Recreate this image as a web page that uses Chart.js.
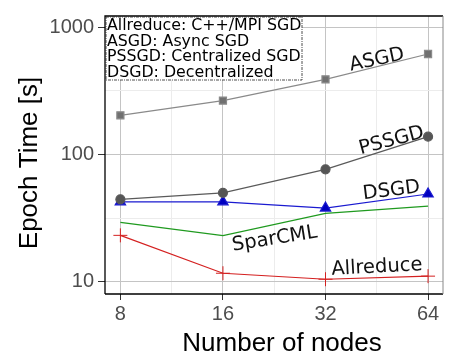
<!DOCTYPE html>
<html lang="en">
<head>
    <meta charset="UTF-8">
    <title>Epoch time vs nodes</title>
    <script src="https://cdn.jsdelivr.net/npm/chart.js"></script>
    <style>
        body { margin: 0; background: #fff; }
        #wrap { width: 474px; height: 361px; }
    </style>
</head>
<body>
    <div id="wrap"><canvas id="myChart" width="474" height="361"></canvas></div>
    <script>
        const nodes = [8, 16, 32, 64];
        const asgd = [203, 265, 389, 615];
        const pssgd = [44.5, 50, 76.5, 138];
        const dsgd = [42.5, 42.5, 38, 49];
        const sparcml = [29.3, 23.1, 34.5, 39.3];
        const allreduce = [23.2, 11.7, 10.5, 11.1];
        const yTicks = [10, 100, 1000];
        const legendLines = [
            'Allreduce: C++/MPI SGD',
            'ASGD: Async SGD',
            'PSSGD: Centralized SGD',
            'DSGD: Decentralized'
        ];

        const xMinor = [11.31, 22.63, 45.25];
        const yMinor = [31.62, 316.2];

        const pts = arr => nodes.map((x, i) => ({ x, y: arr[i] }));

        // line labels placed in data space, rotated like in the original
        const lineLabels = [
            { text: 'ASGD', x: 45.3, y: 552, rot: -12 },
            { text: 'PSSGD', x: 50, y: 128, rot: -15 },
            { text: 'DSGD', x: 50, y: 52, rot: -7 },
            { text: 'SparCML', x: 22.7, y: 21.7, rot: -9 },
            { text: 'Allreduce', x: 45.3, y: 13, rot: -3 }
        ];

        const extras = {
            id: 'extras',
            afterDatasetsDraw(chart) {
                const { ctx, chartArea: a, scales } = chart;
                ctx.save();
                // panel border
                ctx.strokeStyle = '#000';
                ctx.lineWidth = 1.3;
                ctx.beginPath();
                ctx.moveTo(a.left, a.bottom); ctx.lineTo(a.left, a.top); ctx.lineTo(a.right, a.top);
                ctx.moveTo(a.left, a.bottom); ctx.lineTo(a.right, a.bottom);
                ctx.stroke();
                ctx.strokeStyle = '#888';
                ctx.lineWidth = 1;
                ctx.beginPath();
                ctx.moveTo(a.right, a.top); ctx.lineTo(a.right, a.bottom);
                ctx.stroke();

                // line labels
                ctx.fillStyle = '#111';
                ctx.font = '19.5px "DejaVu Sans"';
                ctx.textAlign = 'center';
                ctx.textBaseline = 'middle';
                lineLabels.forEach(l => {
                    const px = scales.x.getPixelForValue(l.x);
                    const py = scales.y.getPixelForValue(l.y);
                    ctx.save();
                    ctx.translate(px, py);
                    ctx.rotate(l.rot * Math.PI / 180);
                    ctx.fillText(l.text, 0, 0);
                    ctx.restore();
                });

                // legend box
                const bx = a.left + 1, by = a.top + 1, bw = 196, bh = 63;
                ctx.fillStyle = '#fff';
                ctx.fillRect(bx, by, bw, bh);
                ctx.strokeStyle = '#222';
                ctx.lineWidth = 0.8;
                ctx.setLineDash([3, 1, 1, 1]);
                ctx.strokeRect(bx, by, bw, bh);
                ctx.setLineDash([]);
                ctx.fillStyle = '#000';
                ctx.font = '15.8px "DejaVu Sans"';
                ctx.textAlign = 'left';
                ctx.textBaseline = 'middle';
                legendLines.forEach((t, i) => ctx.fillText(t, bx + 1, by + 9 + i * 15.5));

                // axis titles
                ctx.font = '26px "Liberation Sans"';
                ctx.textAlign = 'center';
                ctx.textBaseline = 'alphabetic';
                ctx.fillText('Number of nodes', 282, 351);
                ctx.save();
                ctx.translate(37, 163);
                ctx.rotate(-Math.PI / 2);
                ctx.fillText('Epoch Time [s]', 0, 0);
                ctx.restore();
                ctx.restore();
            }
        };

        const gridColor = ctx => (ctx.tick && ctx.tick.minor2) ? '#ececec' : '#c4c4c4';
        const tickColor = ctx => (ctx.tick && ctx.tick.minor2) ? 'rgba(0,0,0,0)' : '#333';

        new Chart(document.getElementById('myChart'), {
            type: 'line',
            data: {
                datasets: [
                    { label: 'ASGD', data: pts(asgd), borderColor: '#8a8a8a', backgroundColor: '#707070',
                      pointStyle: 'rect', pointRadius: 5, borderWidth: 1.2 },
                    { label: 'PSSGD', data: pts(pssgd), borderColor: '#5a5a5a', backgroundColor: '#555',
                      pointStyle: 'circle', pointRadius: 4.5, borderWidth: 1.2 },
                    { label: 'DSGD', data: pts(dsgd), borderColor: '#1a1ad0', backgroundColor: '#0000c0',
                      pointStyle: 'triangle', pointRadius: 6, borderWidth: 1.2 },
                    { label: 'SparCML', data: pts(sparcml), borderColor: '#1f9a1f', backgroundColor: '#1f9a1f',
                      pointRadius: 0, borderWidth: 1.2 },
                    { label: 'Allreduce', data: pts(allreduce), borderColor: '#d42020', backgroundColor: '#d42020',
                      pointStyle: 'cross', pointRadius: 7, pointBorderWidth: 1, borderWidth: 1.2 }
                ]
            },
            options: {
                responsive: false,
                animation: false,
                layout: { padding: { left: 0, right: 31, top: 12, bottom: 0 } },
                plugins: { legend: { display: false }, tooltip: { enabled: false } },
                scales: {
                    x: {
                        type: 'logarithmic', min: 7.21, max: 70.8,
                        afterBuildTicks: s => {
                            s.ticks = nodes.map(v => ({ value: v }))
                                .concat(xMinor.map(v => ({ value: v, minor2: true })));
                        },
                        afterFit: s => { s.height = 67; },
                        grid: { color: gridColor, tickColor: tickColor, tickLength: 6, drawTicks: true, lineWidth: 1 },
                        border: { display: false },
                        ticks: {
                            color: '#4d4d4d', font: { family: 'Liberation Sans', size: 20 }, padding: 2,
                            autoSkip: false, maxRotation: 0,
                            callback: function (v, i, t) { return t[i].minor2 ? '' : String(v); }
                        },
                        title: { display: false }
                    },
                    y: {
                        type: 'logarithmic', min: 8.04, max: 1222,
                        afterBuildTicks: s => {
                            s.ticks = yTicks.map(v => ({ value: v }))
                                .concat(yMinor.map(v => ({ value: v, minor2: true })));
                        },
                        afterFit: s => { s.width = 105; },
                        grid: { color: gridColor, tickColor: tickColor, tickLength: 7, drawTicks: true, lineWidth: 1 },
                        border: { display: false },
                        ticks: {
                            color: '#4d4d4d', font: { family: 'Liberation Sans', size: 20 }, padding: 4,
                            autoSkip: false,
                            callback: function (v, i, t) { return t[i].minor2 ? '' : String(v); }
                        },
                        title: { display: false }
                    }
                }
            },
            plugins: [extras]
        });
    </script>
</body>
</html>
